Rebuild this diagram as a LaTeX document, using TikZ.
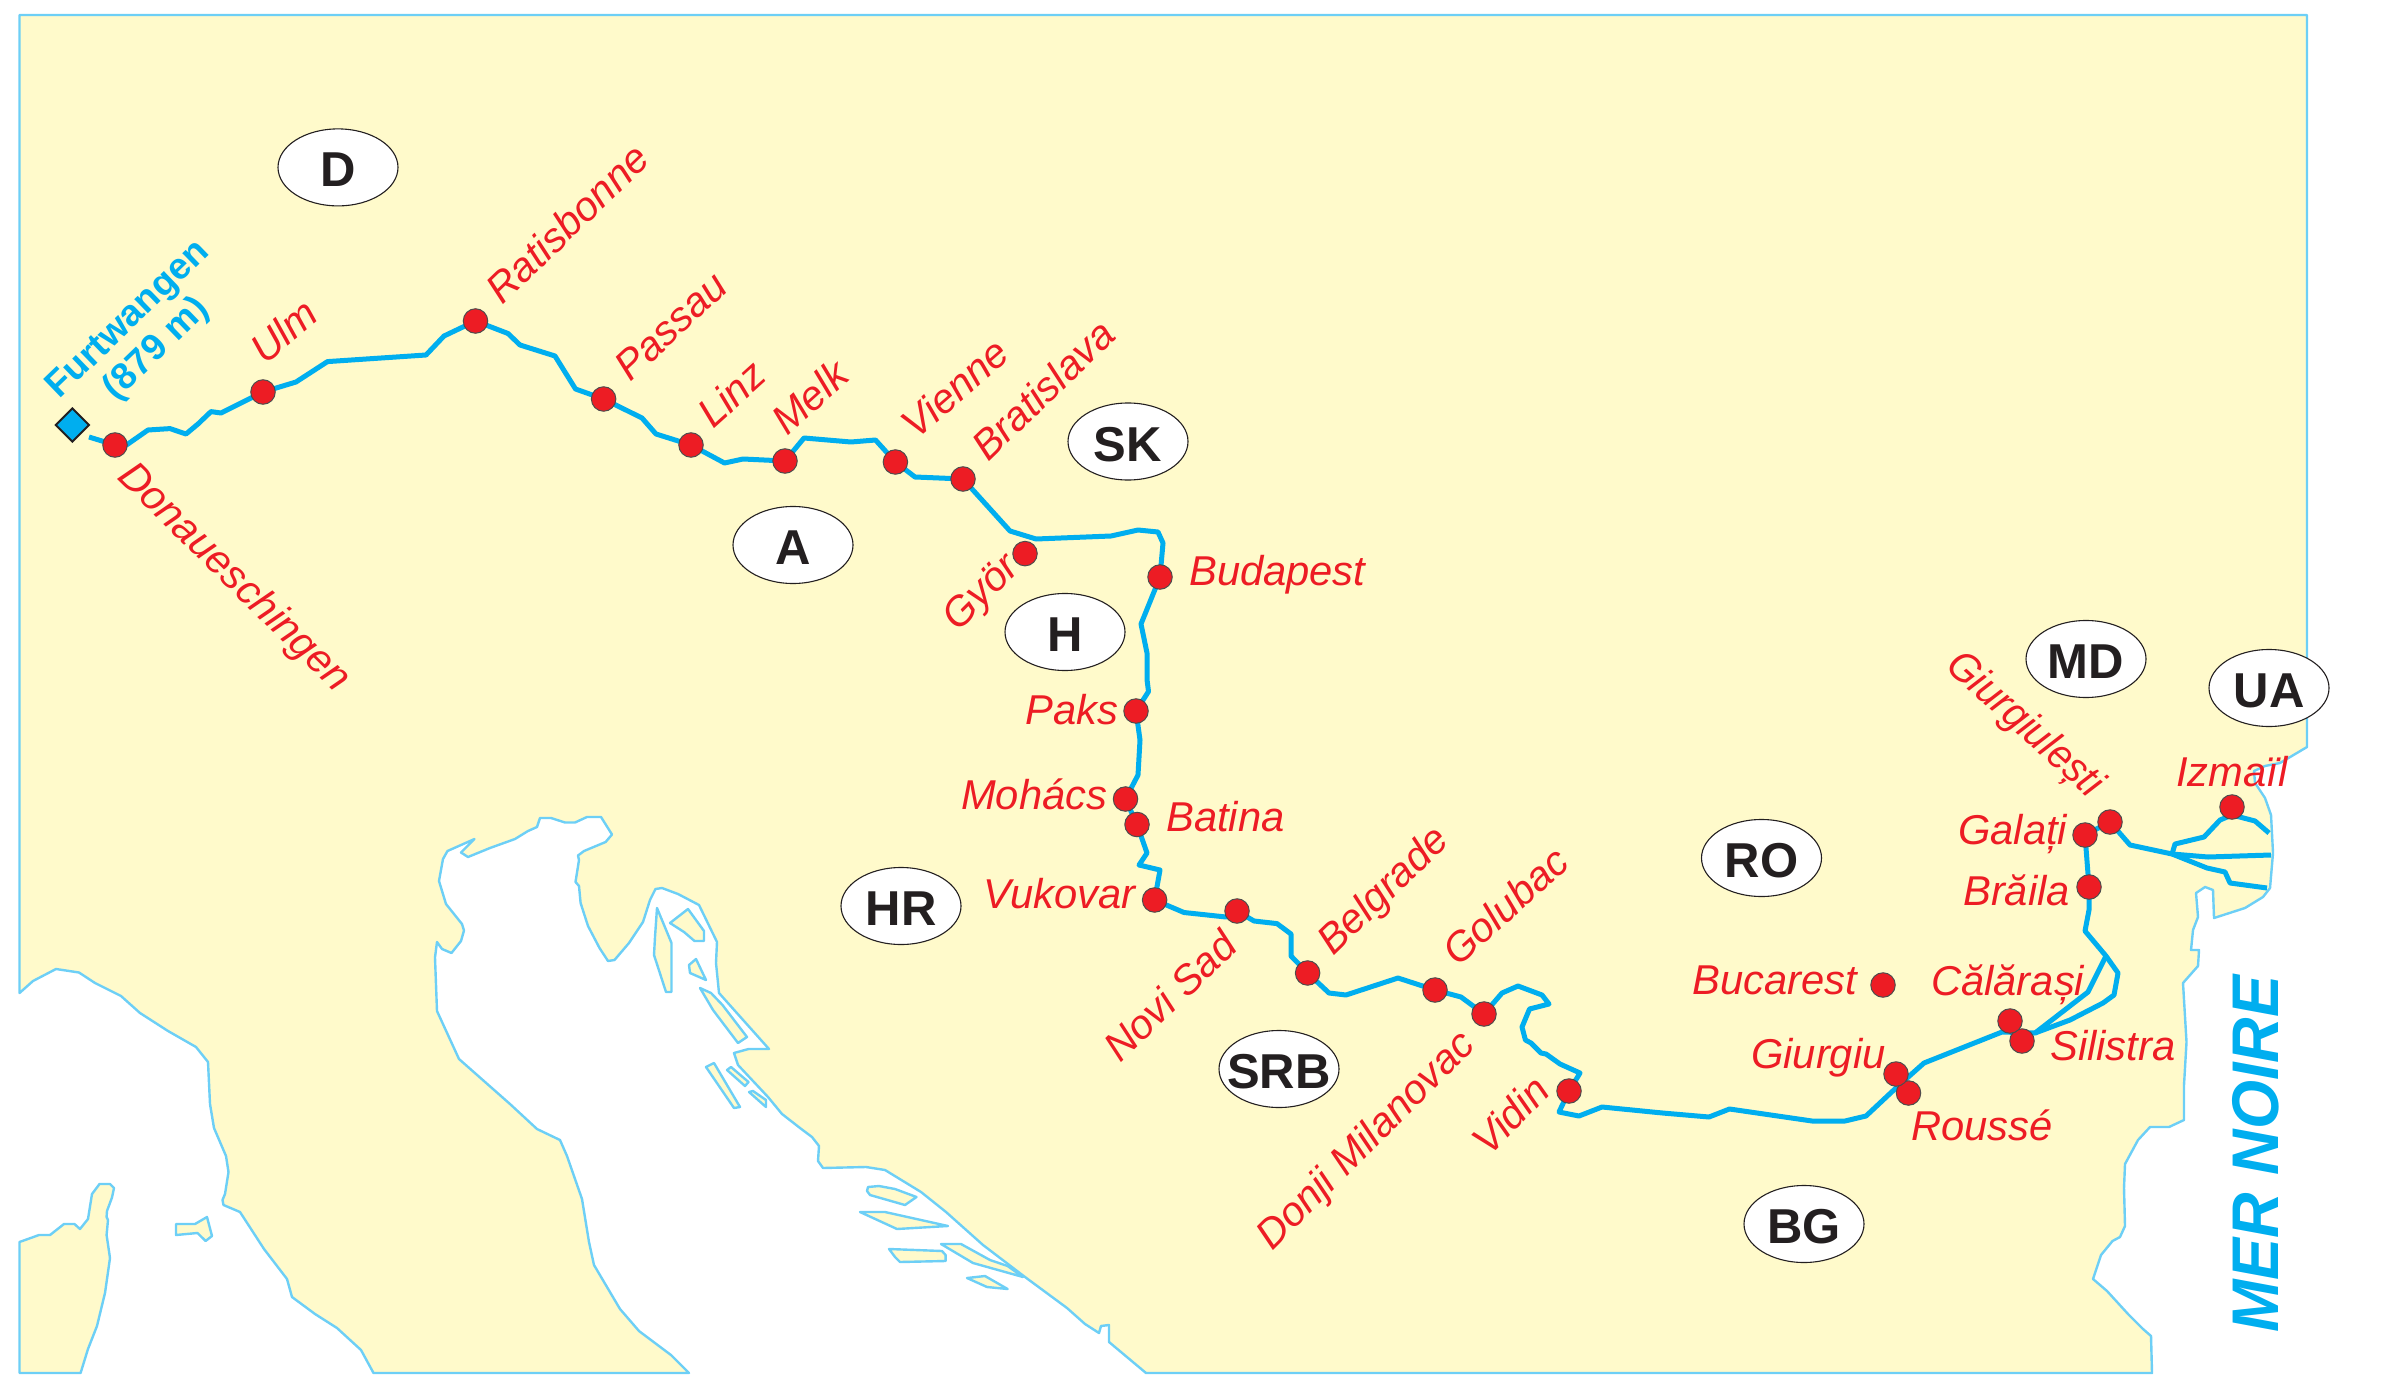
\documentclass[tikz,border=0pt]{standalone}
\usepackage{fontspec}
\setmainfont{Liberation Sans}
\newfontfamily\narrowfont[FakeStretch=0.93]{Liberation Sans}
\newfontfamily\merfont[FakeStretch=0.955]{Liberation Sans}
\usetikzlibrary{shapes.geometric,backgrounds}
\definecolor{land}{HTML}{FFFACB}
\definecolor{coastc}{HTML}{6DCFF6}
\definecolor{rivc}{HTML}{00AEEF}
\definecolor{redc}{HTML}{ED1C24}
\definecolor{inkc}{HTML}{231F20}
\newcommand{\cty}[1]{\raisebox{-19.5pt}[0pt][0pt]{\makebox[0pt][c]{#1}}}
\tikzset{
  coast/.style={fill=land,draw=coastc,line width=2.4pt,line join=round},
  river/.style={draw=rivc,line width=5pt,line join=round},
  citydot/.style={circle,fill=redc,draw=inkc!80,line width=1pt,minimum size=24.5pt,inner sep=0},
  lab/.style={text=redc,inner sep=0,anchor=base west,font=\itshape\fontsize{41.7}{46}\selectfont},
  rlab/.style={lab,font=\itshape\fontsize{41}{46}\selectfont},
  country/.style={ellipse,fill=white,draw=inkc,line width=1.1pt,minimum width=120pt,minimum height=77pt,inner sep=0,text=inkc,font=\bfseries\fontsize{49}{50}\selectfont},
  source/.style={diamond,fill=rivc,draw=inkc,line width=2pt,minimum width=34pt,minimum height=34pt,inner sep=0,aspect=1},
}
\begin{document}
\begin{tikzpicture}[x=1pt,y=-1pt]
\useasboundingbox (0,0) rectangle (2387,1388);
\begin{scope}[on background layer]
% main land
\path[coast] (19.5,15) -- (2307,15) -- (2307,747) -- (2280,763) -- (2265,766) -- (2254,771) -- (2255,783) -- (2265,798) -- (2271,815) -- (2273,853) -- (2270,888) -- (2263,897) -- (2245,908) -- (2214,918) -- (2213,890) -- (2205,887) -- (2196,893) -- (2198,917) -- (2193,930) -- (2191,950) -- (2199,950) -- (2198,966) -- (2183,983) -- (2186.5,1042) -- (2184,1085) -- (2184,1120) -- (2169,1127) -- (2150,1127) -- (2138,1140) -- (2125,1164) -- (2124,1188) -- (2125,1226) -- (2120,1237) -- (2112.5,1241) -- (2101,1255) -- (2093,1279) -- (2107,1291) -- (2128,1314) -- (2143,1329) -- (2151,1336) -- (2152,1373)
 -- (1146,1373) -- (1109,1342) -- (1109,1325) -- (1101,1326) -- (1099,1333) -- (1085,1324) -- (1067,1308) -- (1025,1277) -- (983,1245) -- (946,1212) -- (921,1192) -- (885,1170) -- (866,1167) -- (823,1168) -- (818,1161) -- (819,1146) -- (812,1137) -- (800,1128) -- (782,1114) -- (768,1097) -- (738,1065) -- (734,1053) -- (748.5,1049) -- (769,1049) -- (719,993) -- (716,963) -- (717,942) -- (699,905) -- (678,894) -- (662,888) -- (655.5,889) -- (650,900) -- (643,922) -- (629,943) -- (614.5,960) -- (608,961)
 -- (599.5,948) -- (588,926) -- (580.6,903) -- (579,886) -- (575.5,882) -- (579,860) -- (578,855.5) -- (584,851) -- (605.6,842) -- (612,834.5) -- (601,817) -- (587,817) -- (575,822.5) -- (565,822.5) -- (551,818) -- (540,818) -- (537,827) -- (528,831) -- (515,839) -- (490,848) -- (468,857) -- (461,852.5) -- (474.5,839) -- (447.5,851) -- (443,859) -- (439,881) -- (446,904) -- (462,924) -- (464,930.5) -- (461,941) -- (451.5,953) -- (442,949) -- (437,942) -- (435,957.5) -- (437,1011) -- (459,1059) -- (510,1104) -- (537,1129) -- (560,1140) -- (567,1156) -- (582,1199) -- (589,1242) -- (594,1265) -- (607,1287) -- (620,1309) -- (639,1331) -- (671,1355) -- (689,1373)
 -- (373.5,1373) -- (361,1350) -- (337,1328) -- (315,1314) -- (292,1297) -- (287,1279) -- (264,1249) -- (240,1212) -- (223.5,1205) -- (222.5,1200) -- (225,1194) -- (228.5,1172) -- (226,1156) -- (214,1128) -- (210,1104) -- (208,1062) -- (196,1047) -- (168,1031) -- (140,1013) -- (121,996) -- (95,983) -- (79,972.5) -- (56,969) -- (33,981) -- (19.5,993) -- cycle;
% peninsula lower left
\path[coast] (19.5,1242) -- (39,1235) -- (50,1235) -- (64,1224) -- (74.5,1224) -- (80,1229) -- (88,1219) -- (92,1194) -- (99.5,1184) -- (110,1184) -- (114,1188) -- (112,1197.5) -- (107,1211) -- (106.6,1217) -- (108,1220) -- (106.6,1235) -- (110,1258) -- (105,1293) -- (97,1326) -- (88,1349) -- (80.6,1373) -- (19.5,1373) -- cycle;
% islands
\path[coast] (176,1224) -- (195,1224) -- (207,1217) -- (212,1236) -- (205.6,1241) -- (197.5,1233) -- (176,1235) -- cycle;
\path[coast] (657,908) -- (671.5,943) -- (671.5,992) -- (666,992) -- (654,955) -- (655,937) -- cycle;
\path[coast] (688,909) -- (704,931) -- (704,941) -- (694.5,941) -- (684,932) -- (670,923) -- cycle;
\path[coast] (696,959) -- (706,980) -- (690,973) -- (689,965) -- cycle;
\path[coast] (700,988) -- (711,993) -- (722.5,1005) -- (747,1037) -- (738,1043) -- (713,1010) -- cycle;
\path[coast] (714,1063) -- (740,1107) -- (734,1108) -- (706,1067) -- cycle;
\path[coast] (731,1067) -- (748.5,1082) -- (745,1086) -- (727,1070) -- cycle;
\path[coast] (753,1091) -- (766,1100) -- (766,1107) -- (749,1092) -- cycle;
\path[coast] (868,1187) -- (879,1186) -- (895,1189) -- (916.5,1197) -- (905,1205) -- (870,1195) -- (867,1191) -- cycle;
\path[coast] (860,1212) -- (885,1212) -- (948,1226) -- (897,1229) -- cycle;
\path[coast] (889,1249) -- (942,1251) -- (945.6,1255) -- (945.6,1261) -- (900,1262) -- (895,1257) -- cycle;
\path[coast] (941,1244) -- (961,1244) -- (990,1260) -- (1007.6,1266) -- (1023,1277) -- (973,1263) -- cycle;
\path[coast] (967,1278) -- (985,1276) -- (1007.6,1289) -- (987,1287) -- cycle;
\end{scope}

% city dots
\node[citydot] (don) at (115,445) {};
\node[citydot] (ulm) at (263,392) {};
\node[citydot] (rat) at (475.5,321) {};
\node[citydot] (pas) at (603.6,399) {};
\node[citydot] (lin) at (691,445) {};
\node[citydot] (mel) at (785,461) {};
\node[citydot] (vie) at (895.4,462) {};
\node[citydot] (bra) at (963,479) {};
\node[citydot] (gyo) at (1025,553.6) {};
\node[citydot] (bud) at (1160,577) {};
\node[citydot] (pak) at (1136,711) {};
\node[citydot] (moh) at (1125.5,799) {};
\node[citydot] (bat) at (1137,824.5) {};
\node[citydot] (vuk) at (1154.6,900) {};
\node[citydot] (nov) at (1237,911) {};
\node[citydot] (bel) at (1307.6,973) {};
\node[citydot] (gol) at (1435,990) {};
\node[citydot] (dmi) at (1484,1014) {};
\node[citydot] (vid) at (1569,1091) {};
\node[citydot] (buc) at (1883,985) {};
\node[citydot] (rou) at (1908.5,1093) {};
\node[citydot] (giu) at (1896,1074) {};
\node[citydot] (sil) at (2022,1041) {};
\node[citydot] (cal) at (2010,1021) {};
\node[citydot] (bri) at (2089,887) {};
\node[citydot] (gal) at (2085,835) {};
\node[citydot] (gur) at (2110,822) {};
\node[citydot] (izm) at (2232,807) {};
\node[source] (fur) at (72.4,425) {};
\coordinate (rivstart) at (89,437);
\coordinate (fork) at (2106,956);
\coordinate (delta) at (2172,854);

% river
\begin{scope}[on background layer]
\draw[river] (rivstart) -- (don.center) -- (126.5,445) -- (148,430) -- (170,428.6) -- (186,434) -- (198,424) -- (211,411.6) -- (221,413) -- (ulm.center) -- (296,382) -- (327.5,361.6) -- (426,355) -- (444,336) -- (rat.center) -- (508,333.5) -- (520,345) -- (555,356) -- (575.5,389) -- (pas.center) -- (642,418) -- (656,434) -- (lin.center) -- (724.5,463) -- (743,459) -- (mel.center) -- (804,438) -- (851,442) -- (875.5,440) -- (vie.center) -- (915,477) -- (bra.center) -- (1010,531) -- (1036,539) -- (1111,536) -- (1138,530) -- (1158,532) -- (1163,543) -- (bud.center) -- (1141,624) -- (1147,653) -- (1147,679.5) -- (1148.5,691.5) -- (pak.center) -- (1140,740) -- (1138,775) -- (moh.center) -- (bat.center) -- (1147,853) -- (1139,865) -- (1160,870) -- (vuk.center) -- (1184,912.5) -- (1226,917) -- (nov.center) -- (1254,921) -- (1277,923.6) -- (1291,934) -- (1291,956) -- (bel.center) -- (1329,993) -- (1346,995) -- (1398,978) -- (gol.center) -- (1461,997) -- (dmi.center) -- (1502,993) -- (1518,986) -- (1542,995) -- (1549,1004) -- (1529.5,1009) -- (1522,1027) -- (1525.4,1040) -- (1531,1043) -- (1541,1053) -- (1546,1054) -- (1560,1064) -- (1580,1073) -- (vid.center) -- (1559,1112) -- (1579,1116) -- (1602,1107) -- (1662.5,1113) -- (1709,1117) -- (1729.5,1109) -- (1812,1121) -- (1845,1121) -- (1866,1116) -- (1897,1087) -- (1924,1063) -- (2002,1032) -- (2035,1033) -- (2088,992) -- (fork) -- (2085,931) -- (2089,910) -- (bri.center) -- (gal.center) -- (gur.center) -- (2130,845) -- (delta);
\draw[river] (2035,1033) -- (2070,1020) -- (2103,1003) -- (2114,995) -- (2118,973) -- (fork);
\draw[river] (delta) -- (2175,844) -- (2204,837) -- (2220,820) -- (2232,815) -- (2255,821) -- (2269,833);
\draw[river] (delta) -- (2208,857) -- (2271,855);
\draw[river] (delta) -- (2207,868) -- (2225,872) -- (2230,883) -- (2267,888);
\end{scope}

% labels
\node[rlab,rotate=-44.5] (tdon) at (116,478) {Donaueschingen};
\node[rlab,rotate=40] (tulm) at (265,366) {Ulm};
\node[rlab,rotate=44] (trat) at (502.5,306) {Ratisbonne};
\node[rlab,rotate=43] (tpas) at (630,383) {Passau};
\node[rlab,rotate=42] (tlin) at (713,429.5) {Linz};
\node[rlab,rotate=42] (tmel) at (787,437) {Melk};
\node[rlab,rotate=41] (tvie) at (916,441) {Vienne};
\node[rlab,rotate=44] (tbra) at (988,463) {Bratislava};
\node[rlab,rotate=45] (tgyo) at (958,632.6) {Györ};
\node[lab] (tbud) at (1189,585) {Budapest};
\node[lab] (tpak) at (1025,724) {Paks};
\node[lab] (tmoh) at (961,809.5) {Mohács};
\node[lab] (tbat) at (1166,831) {Batina};
\node[lab] (tvuk) at (983,908.5) {Vukovar};
\node[rlab,rotate=44] (tnov) at (1120,1064) {Novi Sad};
\node[rlab,rotate=44] (tbel) at (1333,957) {Belgrade};
\node[rlab,rotate=42] (tgol) at (1458,968) {Golubac};
\node[rlab,rotate=45] (tdmi) at (1272,1252) {Donji Milanovac};
\node[rlab,rotate=46] (tvid) at (1489,1158) {Vidin};
\node[lab] (tbuc) at (1692,994) {Bucarest};
\node[lab] (tgiu) at (1751,1068) {Giurgiu};
\node[lab] (trou) at (1911,1140) {Roussé};
\node[lab] (tcal) at (1931,995.5) {Călărași};
\node[lab] (tsil) at (2050,1060) {Silistra};
\node[lab] (tbri) at (1963,905.5) {Brăila};
\node[lab] (tgal) at (1958,844) {Galați};
\node[lab] (tizm) at (2176,786) {Izmaïl};
\node[lab,rotate=-42,font=\narrowfont\itshape\fontsize{42}{46}\selectfont] (tgur) at (1944,668) {Giurgiulești};

\node[rotate=44,text=rivc,inner sep=0,align=center,font=\bfseries\fontsize{37}{41}\selectfont] (tfur) at (143,335) {Furtwangen\\(879 m)};
\node[rotate=90,text=rivc,inner sep=0,anchor=base west,font=\merfont\bfseries\itshape\fontsize{66}{70}\selectfont] (tmer) at (2278,1333) {MER NOIRE};

% countries
\node[country] (cd) at (338,167.4) {\cty{D}};
\node[country] (ca) at (793,545) {\cty{A}};
\node[country] (csk) at (1128,441.5) {\cty{SK}};
\node[country] (ch) at (1065,632) {\cty{H}};
\node[country] (chr) at (901,906) {\cty{HR}};
\node[country] (csrb) at (1279,1069) {\cty{SRB}};
\node[country] (cro) at (1761.5,858) {\cty{RO}};
\node[country] (cmd) at (2086,659) {\cty{MD}};
\node[country] (cua) at (2269,688) {\cty{UA}};
\node[country] (cbg) at (1804,1224) {\cty{BG}};
\end{tikzpicture}
\end{document}
